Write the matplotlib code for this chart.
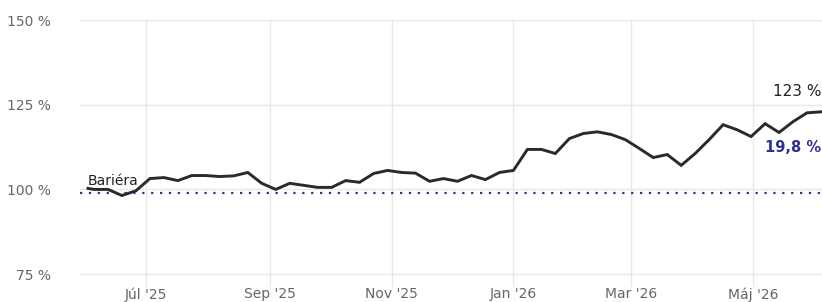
import numpy as np
import pandas as pd
import matplotlib
matplotlib.use("Agg")
import matplotlib.pyplot as plt
import matplotlib.dates as mdates

# weekly fixings (first point is the start date)
dates = pd.to_datetime(["2025-06-02"] + list(pd.date_range("2025-06-05", "2026-06-04", freq="7D").strftime("%Y-%m-%d")))
values = [100.3, 100.0, 100.0, 98.2, 99.6, 103.2, 103.5, 102.6, 104.1, 104.1,
          103.8, 104.0, 105.0, 101.8, 100.0, 101.8, 101.2, 100.6, 100.6, 102.6,
          102.1, 104.7, 105.6, 105.0, 104.8, 102.4, 103.2, 102.4, 104.1, 102.9,
          105.0, 105.6, 111.8, 111.8, 110.6, 115.0, 116.5, 117.0, 116.2, 114.7,
          112.1, 109.4, 110.3, 107.1, 110.6, 114.7, 119.1, 117.6, 115.6, 119.4,
          116.8, 120.0, 122.6, 122.9]
barrier = 99.0
last_label = "123 %"
change_label = "19,8 %"
month_ticks = ["2025-07-01", "2025-09-01", "2025-11-01", "2026-01-01", "2026-03-01", "2026-05-01"]
month_names = ["Júl '25", "Sep '25", "Nov '25", "Jan '26", "Mar '26", "Máj '26"]
y_ticks = [75, 100, 125, 150]

fig = plt.figure(figsize=(8.22, 3.02), dpi=100)
ax = fig.add_axes([80 / 822, 15 / 302, 742 / 822, 267 / 302])

ax.plot(dates, values, color="#2a2a2a", lw=2.1, solid_joinstyle="miter", zorder=3)
ax.axhline(barrier, color="#2e3192", lw=1.6, ls=(0, (1.0, 3.0)), zorder=2)

ax.set_xlim(pd.Timestamp("2025-05-29"), pd.Timestamp("2026-06-04 12:00"))
ax.set_ylim(71.2, 150)
ax.set_yticks(y_ticks)
ax.set_yticklabels([f"{v} %" for v in y_ticks])
ax.set_xticks(pd.to_datetime(month_ticks))
ax.set_xticklabels(month_names)

ax.grid(True, color="#e8e8e8", lw=1)
ax.set_axisbelow(True)
for s in ax.spines.values():
    s.set_visible(False)
ax.tick_params(length=0, colors="#666666", labelsize=10)
ax.tick_params(axis="y", pad=21)
ax.tick_params(axis="x", pad=0)

ax.text(pd.Timestamp("2025-06-02"), barrier + 1.4, "Bariéra", fontsize=10,
        color="#222222", va="bottom", ha="left")
ax.text(dates[-1], 126.6, last_label, fontsize=11, color="#222222",
        ha="right", va="bottom")
ax.text(dates[-1], 112.4, change_label, fontsize=10.5, fontweight="bold",
        color="#2e3192", ha="right", va="center")

fig.savefig("out.png", dpi=100)
